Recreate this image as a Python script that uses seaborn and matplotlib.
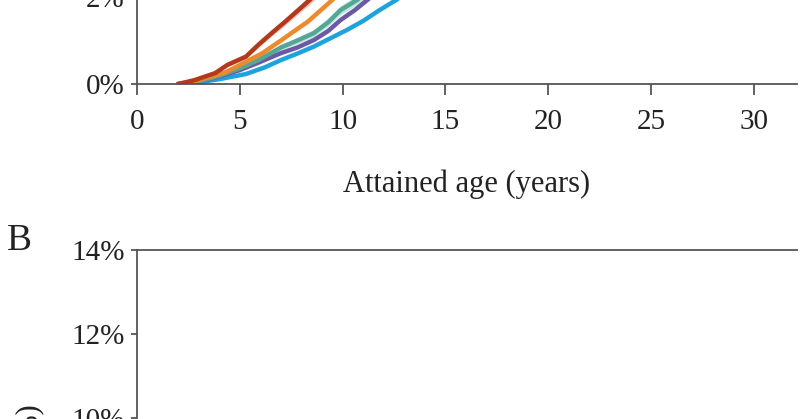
import numpy as np
import pandas as pd
import matplotlib
matplotlib.use("Agg")
import matplotlib.pyplot as plt
import seaborn as sns
from matplotlib.ticker import PercentFormatter

sns.set_theme(style="ticks")
plt.rcParams['font.family'] = ['Liberation Serif', 'DejaVu Serif']

# cumulative incidence (%) by attained age, panel A
red_x = [2, 2.8, 3.8, 4.4, 5.3, 5.9, 6.55, 7.2, 7.8, 8.4, 9.0, 9.6]
red_y = [0, 0.09, 0.25, 0.44, 0.63, 0.90, 1.17, 1.43, 1.68, 1.93, 2.20, 2.48]
red_lo = [0, 0.07, 0.22, 0.40, 0.58, 0.84, 1.10, 1.35, 1.59, 1.83, 2.09, 2.36]
red_hi = [0, 0.11, 0.28, 0.48, 0.68, 0.96, 1.24, 1.51, 1.77, 2.03, 2.31, 2.60]

orange_x = [2, 2.8, 3.6, 4.3, 5.3, 6.1, 7.0, 7.6, 8.3, 8.9, 9.4, 10.0]
orange_y = [0, 0.07, 0.17, 0.27, 0.51, 0.71, 1.00, 1.20, 1.43, 1.68, 1.89, 2.15]

teal_x = [2, 3.0, 4.0, 5.0, 5.9, 7.0, 7.8, 8.6, 9.3, 9.9, 10.7, 11.3]
teal_y = [0, 0.06, 0.19, 0.36, 0.55, 0.84, 1.00, 1.17, 1.42, 1.70, 1.93, 2.15]
teal_lo = [0, 0.05, 0.16, 0.32, 0.50, 0.78, 0.93, 1.09, 1.33, 1.60, 1.82, 2.03]
teal_hi = [0, 0.07, 0.22, 0.40, 0.60, 0.90, 1.07, 1.25, 1.51, 1.80, 2.04, 2.27]

purple_x = [2, 3.0, 4.0, 5.0, 5.9, 7.0, 7.8, 8.6, 9.3, 9.9, 10.6, 11.2, 11.8]
purple_y = [0, 0.05, 0.17, 0.32, 0.49, 0.71, 0.84, 1.01, 1.22, 1.47, 1.70, 1.93, 2.15]

blue_x = [2, 3.0, 4.0, 5.3, 6.2, 7.0, 7.8, 8.6, 9.4, 10.2, 11.0, 11.8, 12.6, 13.2]
blue_y = [0, 0.04, 0.11, 0.23, 0.38, 0.55, 0.70, 0.86, 1.05, 1.24, 1.45, 1.70, 1.93, 2.12]

x_ticks = [0, 5, 10, 15, 20, 25, 30]

spine_col = "#555555"
txt_col = "#222222"
fig = plt.figure(figsize=(8, 4.19), dpi=100)

# panel A (only its bottom part is in view)
ax = fig.add_axes([0.17125, 0.7995, 0.825, 0.4153])
ax.fill_between(red_x, red_lo, red_hi, color="#f2a7a2", alpha=0.7, lw=0)
ax.fill_between(teal_x, teal_lo, teal_hi, color="#a9dbd3", alpha=0.7, lw=0)
sns.lineplot(x=blue_x, y=blue_y, ax=ax, color="#1ea3dc", linewidth=3.2)
sns.lineplot(x=purple_x, y=purple_y, ax=ax, color="#6a5aa6", linewidth=3.2)
sns.lineplot(x=teal_x, y=teal_y, ax=ax, color="#55a795", linewidth=3.2)
sns.lineplot(x=orange_x, y=orange_y, ax=ax, color="#ec8a2e", linewidth=3.2)
sns.lineplot(x=red_x, y=red_y, ax=ax, color="#b3391d", linewidth=3.2)
ax.set_xlim(0, 32.1)
ax.set_ylim(0, 4)
ax.set_xticks(x_ticks)
ax.set_yticks([0, 2, 4])
ax.yaxis.set_major_formatter(PercentFormatter(100, decimals=0))
ax.set_xlabel("Attained age (years)", fontsize=22, labelpad=25, color=txt_col)
ax.tick_params(labelsize=21, width=1.3, color=spine_col, labelcolor=txt_col)
ax.tick_params(axis="x", length=8, pad=10)
ax.tick_params(axis="y", length=4, pad=5)
sns.despine(ax=ax)
for s in ["left", "bottom"]:
    ax.spines[s].set_color(spine_col)
    ax.spines[s].set_linewidth(1.3)

# panel B
bx = fig.add_axes([0.17125, -1.0, 0.825, 1.4033])
bx.set_xlim(0, 32.1)
bx.set_ylim(0, 14)
bx.set_xticks(x_ticks)
bx.set_yticks([0, 2, 4, 6, 8, 10, 12, 14])
bx.yaxis.set_major_formatter(PercentFormatter(100, decimals=0))
bx.tick_params(labelsize=21, width=1.3, color=spine_col, labelcolor=txt_col)
bx.tick_params(axis="y", length=4, pad=5)
sns.despine(ax=bx, top=False)
for s in ["left", "top", "bottom"]:
    bx.spines[s].set_color(spine_col)
    bx.spines[s].set_linewidth(1.3)

fig.text(0.008, 1 - 241 / 419, "B", fontsize=27, va="center", color=txt_col)
fig.text(31 / 800, 1 - 404 / 419, "Cumulative incidence (%)", rotation=90,
         fontsize=22, ha="center", va="top", color=txt_col)

fig.savefig("out.png", dpi=100)
